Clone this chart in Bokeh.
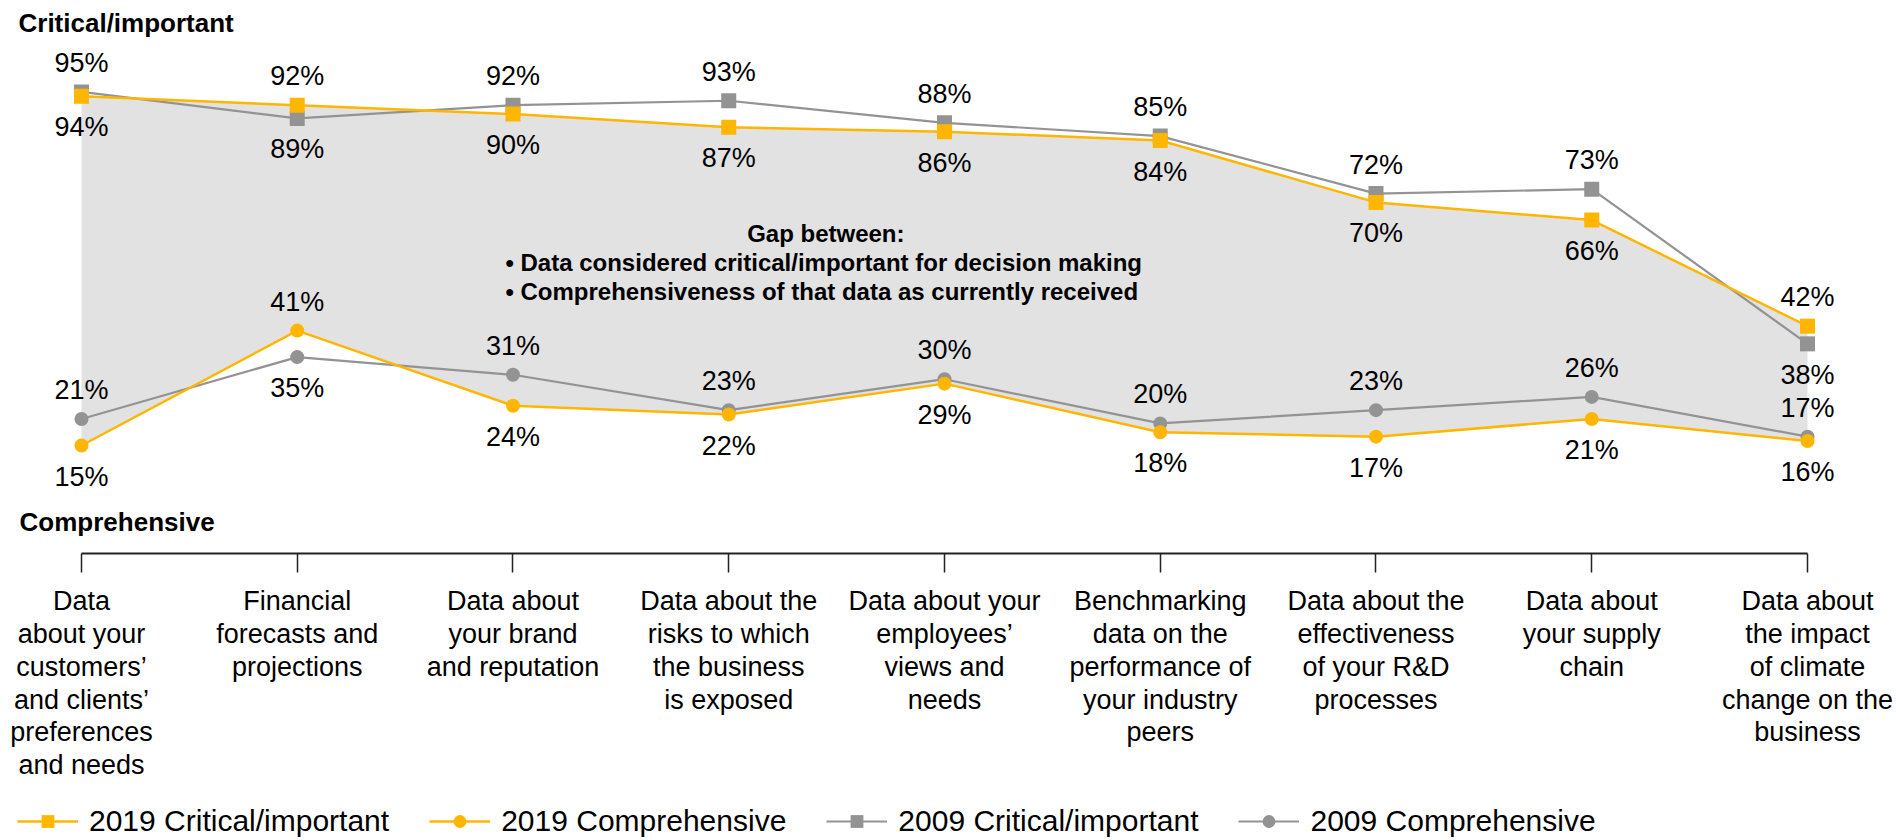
from bokeh.plotting import figure
from bokeh.models import (ColumnDataSource, Range1d, LinearAxis, FixedTicker,
                          Legend, LegendItem)
from bokeh.core.properties import value
from bokeh.embed import file_html
from bokeh.resources import INLINE

# ---------------- data ----------------
categories = [
    "Data\nabout your\ncustomers\u2019\nand clients\u2019\npreferences\nand needs",
    "Financial\nforecasts and\nprojections",
    "Data about\nyour brand\nand reputation",
    "Data about the\nrisks to which\nthe business\nis exposed",
    "Data about your\nemployees\u2019\nviews and\nneeds",
    "Benchmarking\ndata on the\nperformance of\nyour industry\npeers",
    "Data about the\neffectiveness\nof your R&D\nprocesses",
    "Data about\nyour supply\nchain",
    "Data about\nthe impact\nof climate\nchange on the\nbusiness",
]
crit_2019 = [94, 92, 90, 87, 86, 84, 70, 66, 42]
comp_2019 = [15, 41, 24, 22, 29, 18, 17, 21, 16]
crit_2009 = [95, 89, 92, 93, 88, 85, 72, 73, 38]
comp_2009 = [21, 35, 31, 23, 30, 20, 23, 26, 17]

series_names = ["2019 Critical/important", "2019 Comprehensive",
                "2009 Critical/important", "2009 Comprehensive"]
top_label = "Critical/important"
bottom_label = "Comprehensive"
gap_title = "Gap between:"
gap_lines = ["\u2022 Data considered critical/important for decision making",
             "\u2022 Comprehensiveness of that data as currently received"]

# ---------------- style ----------------
YELLOW = "#FFB600"
GRAY = "#939393"
FILL = "#E2E2E2"
FONT = "Liberation Sans"

W, H = 1896, 840

x = list(range(len(categories)))
src = ColumnDataSource(dict(x=x, crit_2019=crit_2019, comp_2019=comp_2019,
                            crit_2009=crit_2009, comp_2009=comp_2009))

x_start = -0.3754
x_end = x_start + W / 215.75
y_end = 115.68
y_start = y_end - H / 4.42

p = figure(width=W, height=H,
           x_range=Range1d(x_start, x_end), y_range=Range1d(y_start, y_end),
           x_axis_type=None, y_axis_type=None,
           output_backend="svg", toolbar_location=None,
           min_border=0, outline_line_color=None)
p.background_fill_color = "white"
p.border_fill_color = "white"

AXIS_Y = -9.43

xaxis = LinearAxis(fixed_location=AXIS_Y, bounds=(0, len(categories) - 1),
                   ticker=FixedTicker(ticks=x, minor_ticks=[]),
                   major_label_overrides={i: lab for i, lab in enumerate(categories)},
                   major_tick_out=19, major_tick_in=0,
                   minor_tick_out=0, minor_tick_in=0,
                   axis_line_color="#222222", axis_line_width=2,
                   major_tick_line_color="#222222", major_tick_line_width=1.5,
                   major_label_text_font=FONT, major_label_text_font_size="27px",
                   major_label_text_color="#000000",
                   major_label_text_line_height=1.09,
                   major_label_standoff=14)
p.add_layout(xaxis, "below")

# gap area
p.varea(x="x", y1="comp_2019", y2="crit_2019", source=src, fill_color=FILL)

# 2009 series (under)
l_c09 = p.line("x", "crit_2009", source=src, line_color=GRAY, line_width=2.2)
s_c09 = p.scatter("x", "crit_2009", source=src, marker="square", size=15,
                  fill_color=GRAY, line_color=None)
l_p09 = p.line("x", "comp_2009", source=src, line_color=GRAY, line_width=2.2)
s_p09 = p.scatter("x", "comp_2009", source=src, marker="circle", size=14,
                  fill_color=GRAY, line_color=None)
# 2019 series (over)
l_c19 = p.line("x", "crit_2019", source=src, line_color=YELLOW, line_width=2.5)
s_c19 = p.scatter("x", "crit_2019", source=src, marker="square", size=15,
                  fill_color=YELLOW, line_color=None)
l_p19 = p.line("x", "comp_2019", source=src, line_color=YELLOW, line_width=2.5)
s_p19 = p.scatter("x", "comp_2019", source=src, marker="circle", size=14,
                  fill_color=YELLOW, line_color=None)

# value labels: higher of each pair above, lower below
up_x, up_y, up_t, dn_x, dn_y, dn_t = [], [], [], [], [], []
for i in x:
    for a, b in ((crit_2019[i], crit_2009[i]), (comp_2019[i], comp_2009[i])):
        hi, lo = max(a, b), min(a, b)
        up_x.append(i); up_y.append(hi); up_t.append(f"{hi}%")
        dn_x.append(i); dn_y.append(lo); dn_t.append(f"{lo}%")

common = dict(text_font=value(FONT), text_font_size="27px", text_color="#000000",
              text_align="center", text_baseline="middle")
p.text(x=up_x, y=up_y, text=up_t, y_offset=-29, **common)
p.text(x=dn_x, y=dn_y, text=dn_t, y_offset=31, **common)

# section titles
p.text(x=[-0.292], y=[110.7], text=[top_label], text_font=value(FONT),
       text_font_size="26px", text_font_style="bold", text_color="#000000",
       text_align="left", text_baseline="alphabetic")
p.text(x=[-0.287], y=[-2.2], text=[bottom_label], text_font=value(FONT),
       text_font_size="26px", text_font_style="bold", text_color="#000000",
       text_align="left", text_baseline="alphabetic")

# gap annotation
p.text(x=[3.45], y=[62.96], text=[gap_title], text_font=value(FONT),
       text_font_size="24px", text_font_style="bold", text_color="#000000",
       text_align="center", text_baseline="middle")
p.text(x=[1.965, 1.965], y=[56.4, 49.84], text=gap_lines, text_font=value(FONT),
       text_font_size="24px", text_font_style="bold", text_color="#000000",
       text_align="left", text_baseline="middle")

legend = Legend(items=[
    LegendItem(label=series_names[0], renderers=[l_c19, s_c19]),
    LegendItem(label=series_names[1], renderers=[l_p19, s_p19]),
    LegendItem(label=series_names[2], renderers=[l_c09, s_c09]),
    LegendItem(label=series_names[3], renderers=[l_p09, s_p09]),
], location=(17, 2), orientation="horizontal",
   glyph_width=61, glyph_height=32, label_standoff=11, spacing=40,
   padding=0, margin=0, border_line_color=None, background_fill_alpha=0,
   label_text_font=FONT, label_text_font_size="30px", label_text_color="#000000")
p.add_layout(legend, "center")

open("out.html", "w").write(file_html(p, INLINE))
